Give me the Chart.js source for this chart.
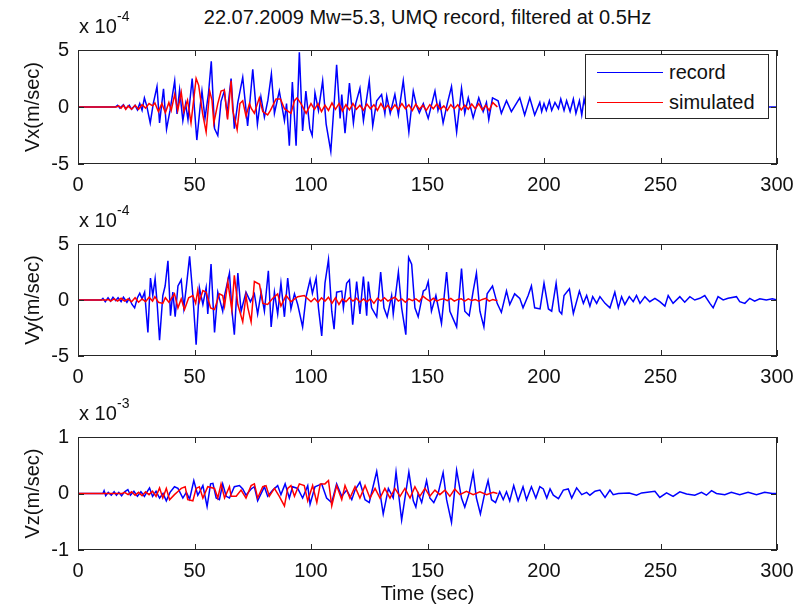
<!DOCTYPE html>
<html>
<head>
<meta charset="utf-8">
<script src="https://cdn.jsdelivr.net/npm/chart.js@4.4.0/dist/chart.umd.min.js"></script>
<style>
  body { margin: 0; background: #fff; }
  #fig { position: relative; width: 807px; height: 608px; overflow: hidden;
         font-family: "Liberation Sans", Arial, sans-serif; color: #111; }
  canvas { position: absolute; left: 0; }
  .txt { position: absolute; white-space: nowrap; font-size: 20px; line-height: 20px; }
  .sup { position: absolute; white-space: nowrap; font-size: 14px; line-height: 14px; }
  #title { left: 78px; width: 699px; text-align: center; top: 7px; }
  #legend { position: absolute; left: 585px; top: 54px; width: 184px; height: 65px;
            box-sizing: border-box; border: 1px solid #262626; background: #fff; z-index: 5; }
  .lg-line { position: absolute; left: 11px; width: 66px; height: 0; border-top: 1.5px solid; }
</style>
</head>
<body>
<div id="fig">
  <canvas id="cVx" width="807" height="165" style="top:29px"></canvas>
  <canvas id="cVy" width="807" height="163" style="top:223px"></canvas>
  <canvas id="cVz" width="807" height="192" style="top:416px"></canvas>

  <div class="txt" id="title">22.07.2009 Mw=5.3, UMQ record, filtered at 0.5Hz</div>

  <div class="txt" style="left:79px; top:16px">x 10</div><div class="sup" style="left:117px; top:9px">-4</div>
  <div class="txt" style="left:79px; top:210px">x 10</div><div class="sup" style="left:117px; top:203px">-4</div>
  <div class="txt" style="left:79px; top:403px">x 10</div><div class="sup" style="left:117px; top:396px">-3</div>

  <div id="legend">
    <div class="lg-line" style="top:17px; border-color:#0000ff"></div>
    <div class="txt" style="left:83px; top:7px">record</div>
    <div class="lg-line" style="top:47px; border-color:#ff0000"></div>
    <div class="txt" style="left:83px; top:37px">simulated</div>
  </div>
</div>

<script>
// time axis and tick labels
const xTicks = [0, 50, 100, 150, 200, 250, 300];
const yTicksE4 = [-5, 0, 5];   // x 10^-4
const yTicksE3 = [-1, 0, 1];   // x 10^-3

// [time (s), velocity]; Vx, Vy in 1e-4 m/s, Vz in 1e-3 m/s
const vxRecord = [
  [0,0],[16,0],[17,0.15],[18,-0.1],[19.5,0.2],[20.5,-0.15],[22,0.15],[23,-0.2],[24.5,0.15],[25.5,-0.25],
  [26.5,0.3],[27.5,-0.3],[28.5,0.8],[29.5,0.1],[31,-1.4],[32.3,0.3],[33.9,1.8],[35,-1.4],[36.7,1.6],[38,-1.95],
  [39.5,-0.3],[41.5,2.3],[42.5,-0.6],[43.6,1.5],[45,-1.2],[46.2,0.3],[47.2,-1.1],[49,2.5],[51,-2.9],[52.5,0.2],
  [53.2,1.4],[54.5,-1.0],[56,1.2],[57.2,4.0],[58.6,-1.9],[60,-2.5],[61.4,0.5],[62.8,1.4],[64,-0.6],[65.7,2.5],
  [67.1,-1.9],[68.6,0.4],[70.7,2.6],[72.8,-1.65],[73.8,0.5],[75,3.3],[77,-1.5],[78.5,0.9],[80,-0.9],[81.5,0.6],
  [83,2.9],[84.3,-0.55],[86.4,1.4],[88.6,-1.2],[89.5,0.3],[90.7,-3.4],[92,2.2],[93.6,-3.4],[95,4.8],[96.4,-2.1],
  [97.8,1.4],[99.5,-1.9],[100.5,-2.5],[101.7,1.25],[103.2,-0.3],[105,2.3],[106.5,-1.5],[108.5,-3.9],[110,0.5],[111,3.7],
  [112.5,-1.0],[113.2,1.1],[114.6,-2.3],[116.5,2.1],[118.2,-1.4],[119.2,0.3],[121,1.65],[122.5,-1.2],[125,2.3],[126.5,-1.65],
  [128.2,0.55],[130.3,1.1],[131.7,-0.6],[132.5,0.95],[134,-0.55],[136,1.1],[137.5,-0.7],[139.6,2.3],[142,-2.2],[143.9,1.4],
  [145.3,0.1],[146.5,-0.5],[148.2,0.3],[150.3,-1.0],[153.2,1.4],[154.5,-0.3],[155.3,0.4],[156.7,-1.4],[158.5,0.3],[160.3,1.8],
  [162.5,-2.2],[164.6,1.65],[166,-0.55],[167.5,0.8],[169.6,-0.95],[172,0.8],[173.9,-0.4],[175.3,0.4],[176.3,-1.1],[177.9,0.8],
  [180.3,0.55],[181.7,-0.55],[183.9,0.55],[186,-0.4],[189.6,0.8],[191.7,-0.7],[193.9,0.8],[196,-0.7],[198.2,0.4],[199,-0.4],
  [200,0.3],[201,-0.3],[202.3,0.55],[203.3,-0.3],[204.7,0.4],[206.2,-0.15],[207.2,0.7],[208.6,-0.3],[209.7,0.55],[211.2,-0.4],
  [212.6,0.7],[213.7,-0.55],[215.2,0.55],[216.2,-0.7],[217.2,0.7],[218.5,-0.5],[220,0.5],[221.5,-0.45],[223,0.45],[225,-0.4],
  [227,0.4],[229,-0.35],[231,0.35],[233,-0.3],[235.5,0.3],[238,-0.3],[240.5,0.25],[243,-0.25],[246,0.2],[249,-0.2],
  [252,0.2],[255,-0.15],[258,0.15],[261,-0.15],[264,0.12],[267,-0.12],[270,0.1],[274,-0.1],[278,0.08],[282,-0.08],
  [286,0.05],[290,-0.05],[294,0],[300,0]
];
const vxSimulated = [
  [0,0],[16.5,0],[17.5,0.1],[18.5,-0.1],[19.5,0.15],[20.5,-0.2],[21.5,0.1],[23,-0.2],[24.5,0.15],[26,-0.2],
  [27.5,0.2],[29,-0.1],[30.5,0.3],[32,0.1],[33,0.35],[34.5,-0.4],[36,0.3],[37.5,-0.5],[39,0.4],[40,-0.3],
  [41.5,1.1],[42.8,-0.3],[44.3,1.3],[45.4,-0.4],[47,0.6],[48.5,-1.4],[50.7,2.5],[51.8,1.9],[53.5,-0.6],[55,-2.2],
  [56.5,1.4],[57.5,0.6],[58.3,-1.4],[60,0.3],[61.4,1.4],[62.8,1.5],[64.2,-1.1],[65.7,2.3],[66.4,-0.3],[68.3,-2.0],
  [69.5,0.3],[70.7,0.55],[72.1,-0.8],[73.6,0.3],[74.3,-0.1],[75.7,-0.55],[77.8,0.8],[79.3,-0.4],[81.4,-0.7],[82.6,-0.3],
  [85,0.7],[86.9,0.7],[88.6,-0.15],[91.4,-0.55],[92.9,0.55],[94,0.8],[95.7,0.3],[97.9,-0.55],[100,0.3],[101.5,-0.2],
  [103,0.3],[104.5,-0.4],[106,0.15],[107.5,-0.3],[109,0.35],[110.5,-0.2],[112,0.3],[113.5,-0.35],[115,0.2],[116.5,-0.25],
  [118,0.3],[119.5,-0.2],[121,0.15],[122.5,-0.3],[124,0.25],[125.5,-0.15],[127,0.2],[128.5,-0.3],[130,0.3],[131.5,-0.2],
  [133,0.15],[134.5,-0.25],[136,0.2],[137.5,-0.2],[139,0.3],[140.5,-0.15],[142,0.2],[143.5,-0.3],[145,0.25],[146.5,-0.2],
  [148,0.15],[149.5,-0.3],[151,0.2],[152.5,-0.15],[154,0.25],[155.5,-0.2],[157,0.1],[158.5,-0.3],[160,0.2],[161.5,-0.15],
  [163,0.2],[164.5,-0.25],[166,0.15],[167.5,-0.2],[169,0.25],[170.5,-0.15],[172,0.3],[173.5,-0.25],[175,0.15],[176.5,-0.3],
  [178,0.4],[179.5,0.1],[180,0]
];
const vyRecord = [
  [0,0],[10,0],[10.7,0.15],[11.7,-0.15],[12.9,0.2],[14,-0.1],[15,0.25],[16.2,-0.05],[17.2,0.2],[18.5,-0.15],
  [19.5,0.25],[21,-0.2],[22,0.15],[23.2,-0.4],[24.3,-0.7],[25.5,0.2],[26.5,0.6],[27.5,0.1],[28.6,0.7],[30,-2.9],
  [31.1,1.95],[32.1,0.4],[33.1,1.9],[34,-0.4],[35,-3.6],[36.4,0.4],[37.4,1.25],[38.6,3.5],[39.7,-1.4],[40.7,0.7],
  [41.7,-1.5],[42.9,1.25],[44.3,1.8],[45.4,-0.7],[46.4,1.0],[47.9,3.9],[49.3,0.4],[50.7,-4.0],[52.1,1.1],[53.6,-0.4],
  [55,1.1],[55.7,-1.25],[57.1,3.2],[58.6,-2.9],[60,0.7],[62.1,-1.0],[62.9,0.4],[65,2.4],[66.1,-1.0],[67.1,-3.1],
  [68.6,2.4],[70,-1.0],[72.1,0.7],[74,-0.15],[75.7,0.55],[77.1,-1.25],[78.6,0.7],[80,-1.0],[81.7,2.6],[82.9,-2.4],
  [84.3,0.7],[85.7,-1.25],[87.1,1.5],[88.6,-1.5],[90,1.95],[91.4,-0.8],[92.9,0.55],[94.3,-0.4],[96.4,-2.4],[97.9,0.3],
  [99.6,1.8],[100.6,0.6],[102.2,1.95],[103.2,-0.7],[104.6,-3.2],[106,1.5],[107.5,3.6],[108.9,-1.0],[109.9,-2.6],[111,0.7],
  [113.2,0.8],[113.9,-0.7],[115.3,1.5],[116.5,1.8],[117.9,-2.2],[119.6,1.65],[121,-1.25],[122.5,2.1],[123.9,-1.4],[124.6,1.65],
  [126,-0.7],[128.2,-1.5],[129.9,2.5],[131.3,-0.7],[132.7,-1.5],[134.6,0.4],[135.3,-1.25],[137.5,2.5],[138.9,-0.7],[140.7,-3.1],
  [141.9,3.8],[143.2,3.2],[144.6,-0.7],[146,-1.5],[148.2,0.8],[149.3,0.95],[150.3,1.65],[151.7,-1.0],[153.6,0.4],[156,-2.1],
  [158.2,2.5],[159.6,-1.0],[162.5,-2.4],[164.6,2.8],[166,-1.0],[167.9,-1.4],[169.6,0.8],[171,2.4],[172.5,-1.0],[174.2,-2.4],
  [175.6,0.55],[177.9,1.25],[179.9,-0.3],[181.7,-1.1],[183.9,0.8],[185.3,-0.4],[187.4,0.55],[189.6,0.15],[191,-0.7],[193.2,0.4],
  [194.6,1.25],[196,-0.7],[198.3,-0.8],[200,1.5],[201.9,-0.8],[203.3,-1.0],[205.2,1.5],[206.6,-1.0],[207.6,-1.25],[208.6,0.4],
  [210.9,1.0],[212.6,-1.2],[215.2,0.8],[216.9,-0.3],[218.3,0.4],[219.7,-0.55],[220.9,0.3],[222.6,-0.3],[224,0.3],[226.2,-0.3],
  [228.3,-0.7],[230.4,0.7],[231.9,-0.7],[233.3,0.3],[234.7,-0.4],[236.6,0.3],[238.3,-0.15],[239.7,0.4],[241.2,-0.3],[243.3,0.3],
  [245.4,-0.15],[247.6,0.15],[249.7,-0.15],[251.9,-0.55],[253.3,0.4],[255.4,-0.3],[258.3,0.3],[260.4,-0.2],[262.6,0.3],[264.7,0],
  [266.9,0.15],[269,0.4],[271.2,-0.3],[272.6,-0.7],[274.7,0.3],[276.9,0],[279,0.15],[282.6,0.3],[284,-0.15],[286.2,-0.3],
  [288.3,0.15],[290.4,-0.1],[292.6,0.1],[295.4,0],[298,0.1],[300,0]
];
const vySimulated = [
  [0,0],[12,0],[13,0.05],[14,-0.1],[15.5,0.1],[17,-0.1],[18.5,0.15],[20,-0.1],[21.5,0.1],[23,-0.15],
  [24.5,0.2],[26,-0.2],[27.5,0.1],[29,-0.15],[30.5,0.25],[32,-0.1],[33,0.3],[34.5,-0.2],[36.4,-0.3],[37.5,0.2],
  [39,-0.2],[41.4,0.55],[42.9,-0.7],[44.3,0.1],[45.7,-0.85],[47.5,0.2],[49.3,0.4],[50.5,-0.3],[51.4,0.85],[52.1,-0.15],
  [53.6,0.85],[55,0.7],[56.9,-0.7],[58.6,-0.85],[60.7,0.55],[62.1,0.4],[62.9,-0.55],[64.3,1.65],[66,-0.85],[67.1,2.2],
  [68.6,-0.4],[70.7,-1.95],[72.1,0.4],[72.9,-0.7],[74.3,-1.95],[75.7,1.65],[77.9,1.4],[79.3,-0.3],[81.4,-0.4],[83.6,0.15],
  [85.7,0.55],[87.1,-0.55],[89.3,0.4],[91.4,-0.15],[94.3,0.3],[97.1,0.4],[100,-0.15],[101.5,0.15],[103,-0.2],[104.5,0.2],
  [106,-0.1],[107.5,0.25],[109,-0.3],[110.5,0.2],[112,-0.4],[113.5,0.1],[115,-0.15],[116.5,0.2],[118,-0.1],[119.5,0.15],
  [121,-0.2],[122.5,0.1],[124,-0.15],[125.5,0.1],[127,-0.3],[128.5,0.15],[130,-0.1],[131.5,0.2],[133,-0.1],[134.5,0.1],
  [136,0.25],[137.5,-0.1],[139,0.1],[140.5,-0.2],[142,0.1],[143.5,-0.05],[145,0.1],[146.5,-0.15],[148,0.35],[149.5,0.1],
  [151,-0.1],[152.5,0.15],[154,-0.1],[155.5,0.05],[157,0.1],[158.5,-0.05],[160,0.15],[161.5,-0.1],[163,0.05],[164.5,0.1],
  [166,-0.1],[167.5,0.1],[169,-0.05],[170.5,0.05],[172,-0.1],[173.5,0.05],[175,0.15],[176.5,-0.1],[178,0.05],[179.5,-0.05],
  [180,0]
];
const vzRecord = [
  [0,0],[10.7,0],[11.2,0.05],[11.9,-0.04],[13,0.02],[14.3,-0.03],[15.5,0.03],[16.5,-0.03],[17.5,0.02],[18.7,-0.04],
  [20,0.03],[21.4,0.07],[22.5,-0.03],[24,0.04],[25.5,-0.05],[27,0.03],[28.5,-0.05],[29.5,0.02],[30.7,0.1],[32,-0.05],
  [33.5,0.04],[35,-0.08],[36.5,0],[37.9,-0.13],[39.5,0.02],[41.4,0.12],[42.9,0.09],[45,-0.08],[46.5,0.02],[47.9,-0.1],
  [49.7,0.23],[51.4,-0.03],[52.2,0.03],[53.6,0.14],[55.4,-0.23],[56.9,0.17],[57.9,0.18],[59.3,-0.08],[60.7,-0.11],[62.1,0.17],
  [63.6,-0.05],[65,-0.08],[67.1,0.12],[69.3,0.14],[70.7,0.08],[72.1,-0.03],[74.3,0.08],[75.7,0.12],[77.1,-0.13],[79.3,0.06],
  [80,0.12],[81.4,-0.05],[83.6,0.06],[85.7,0.14],[87.1,-0.02],[88.9,0.17],[90.7,-0.08],[92.1,0.12],[94.3,0.09],[96.4,-0.08],
  [98.6,0.14],[99.6,-0.19],[101.7,0.12],[104.6,0.17],[106.7,-0.08],[108.9,-0.16],[111,0.17],[113.2,-0.05],[115.3,0.06],[117.5,-0.11],
  [118.9,0.06],[121,0.2],[123.2,-0.11],[125,-0.16],[128.2,0.39],[131,-0.36],[133.2,0.09],[135.3,-0.08],[136.5,0.38],[138.9,-0.47],
  [142,0.38],[143.9,-0.13],[145,-0.24],[146,0],[147.5,-0.16],[149.6,0.23],[151,-0.08],[152.7,-0.16],[154.6,0.01],[156.7,0.37],
  [158.2,-0.11],[160.3,-0.51],[162.5,0.41],[164.6,-0.08],[166,-0.24],[167.9,0.01],[169.6,0.37],[171,-0.08],[172.7,-0.36],[174.6,0.01],
  [176,0.23],[177.5,-0.11],[179.2,-0.16],[181,0.03],[182.5,-0.11],[183.9,0.03],[185.3,-0.13],[187,0.14],[188.9,-0.13],[191,0.12],
  [192.5,-0.11],[194.6,0.12],[196.5,-0.08],[198.2,0.12],[199.7,0.08],[201.2,-0.08],[202.6,0.08],[204,-0.03],[206.2,-0.09],[208.3,0.06],
  [210.4,0.08],[211.9,-0.08],[214,0.1],[216.2,-0.02],[218.3,0.02],[219.7,-0.03],[221.9,0.04],[224,0.06],[226.2,-0.07],[228.3,0.06],
  [229.7,-0.02],[231.9,0],[236.6,0.01],[239.7,-0.03],[241.9,0.01],[247.6,0.04],[249.7,-0.07],[252.6,0.01],[255.4,-0.05],[258.3,0.03],
  [261.2,-0.01],[264.7,-0.03],[267.6,0.02],[269.7,-0.03],[271.9,0.05],[274,0],[277.6,-0.02],[280.4,0.02],[284,-0.02],[287.6,0.02],
  [291.2,-0.02],[294.7,0.02],[298,0],[300,0]
];
const vzSimulated = [
  [0,0],[19,0],[20,0.02],[21.5,-0.02],[23,0.03],[24.5,-0.03],[26,0.02],[27.5,-0.04],[29,0.03],[30.5,-0.02],
  [32,0.04],[33.5,-0.05],[35,0.1],[36.4,-0.08],[37.9,0.09],[39.3,-0.11],[41.4,-0.02],[43,0.04],[44.3,0.09],[46,0.12],
  [47.1,-0.11],[49.3,-0.13],[50.7,0.09],[52.1,0.12],[53.6,-0.08],[55.7,0.12],[58.6,0.09],[60,-0.08],[61.4,0.17],[62.9,-0.08],
  [65,0.12],[65.7,-0.05],[67.9,-0.05],[70,0.06],[72.1,-0.08],[74.3,0.14],[75.7,0.17],[77.1,-0.08],[79.3,0.12],[80.7,0.14],
  [82.1,-0.05],[84.3,0.09],[86.4,-0.05],[88.6,-0.22],[90,0.09],[91.4,0.14],[92.9,-0.05],[95,0.17],[97.1,0.14],[98.6,-0.13],
  [100.7,0.14],[102.5,-0.16],[104,0.17],[106,0.17],[107.5,0.23],[108.9,-0.22],[111,0.14],[113.2,-0.11],[114.6,0.14],[116.7,-0.08],
  [118.9,0.12],[121,-0.08],[123.2,0.14],[125.3,-0.08],[127.5,0.09],[129.6,-0.08],[131.7,0.09],[133.9,-0.08],[136,0.09],[138.2,-0.05],
  [140.3,0.09],[142.5,-0.08],[144.6,0.12],[146.7,-0.05],[148.9,0.09],[151,-0.05],[153.2,0.06],[155.3,-0.02],[157.5,0.06],[159.6,-0.05],
  [161.7,0.08],[163.9,-0.02],[166.7,0.04],[169.6,-0.02],[172.5,0.03],[175.4,-0.02],[178.2,0.02],[180,0]
];

Chart.defaults.font.family = '"Liberation Sans", Arial, sans-serif';
Chart.defaults.font.size = 20;
Chart.defaults.color = '#111';

// MATLAB style box with inward tick marks
const boxTicks = {
  id: 'boxTicks',
  afterDatasetsDraw(chart) {
    const { ctx, chartArea: a, scales: { x, y } } = chart;
    const len = 6;
    ctx.save();
    ctx.strokeStyle = '#262626';
    ctx.lineWidth = 1;
    ctx.beginPath();
    x.ticks.forEach(t => {
      const px = Math.round(x.getPixelForValue(t.value)) + 0.5;
      ctx.moveTo(px, a.top); ctx.lineTo(px, a.top + len);
      ctx.moveTo(px, a.bottom); ctx.lineTo(px, a.bottom - len);
    });
    y.ticks.forEach(t => {
      const py = Math.round(y.getPixelForValue(t.value)) + 0.5;
      ctx.moveTo(a.left, py); ctx.lineTo(a.left + len, py);
      ctx.moveTo(a.right, py); ctx.lineTo(a.right - len, py);
    });
    ctx.stroke();
    ctx.strokeRect(a.left + 0.5, a.top + 0.5, a.width - 1, a.height - 1);
    ctx.restore();
  }
};

const toXY = arr => arr.map(p => ({ x: p[0], y: p[1] }));

function makePanel(id, yLabel, yTicks, record, simulated, axisH, xTitle) {
  const lim = yTicks[yTicks.length - 1];
  new Chart(document.getElementById(id), {
    type: 'line',
    data: {
      datasets: [
        { label: 'record', data: toXY(record), borderColor: '#0000ff', borderWidth: 1.5, order: 1 },
        { label: 'simulated', data: toXY(simulated), borderColor: '#ff0000', borderWidth: 1.5, order: 0 }
      ]
    },
    options: {
      responsive: false,
      devicePixelRatio: 1,
      animation: false,
      parsing: false,
      elements: { point: { radius: 0 }, line: { tension: 0, borderJoinStyle: 'miter' } },
      layout: { padding: { top: 14, right: 30, left: 0, bottom: 0 } },
      plugins: { legend: { display: false }, tooltip: { enabled: false } },
      scales: {
        x: {
          type: 'linear', min: 0, max: 300,
          grid: { display: false, drawTicks: false },
          border: { display: false },
          ticks: { padding: 9, maxRotation: 0 },
          afterBuildTicks: s => { s.ticks = xTicks.map(v => ({ value: v })); },
          afterFit: s => { s.height = axisH; },
          title: { display: !!xTitle, text: xTitle || '', padding: { top: 0, bottom: 2 } }
        },
        y: {
          type: 'linear', min: -lim, max: lim,
          grid: { display: false, drawTicks: false },
          border: { display: false },
          ticks: { padding: 9 },
          afterBuildTicks: s => { s.ticks = yTicks.map(v => ({ value: v })); },
          afterFit: s => { s.width = 78; },
          title: { display: true, text: yLabel, padding: { top: 21, bottom: 0 } }
        }
      }
    },
    plugins: [boxTicks]
  });
}

makePanel('cVx', 'Vx(m/sec)', yTicksE4, vxRecord, vxSimulated, 30);
makePanel('cVy', 'Vy(m/sec)', yTicksE4, vyRecord, vySimulated, 30);
makePanel('cVz', 'Vz(m/sec)', yTicksE3, vzRecord, vzSimulated, 58, 'Time (sec)');
</script>
</body>
</html>
